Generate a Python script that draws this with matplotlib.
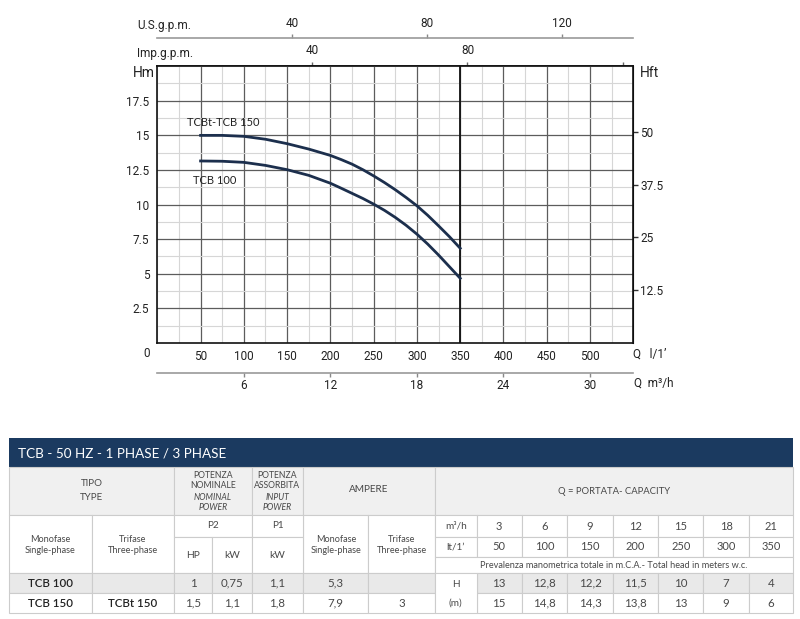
import matplotlib
matplotlib.use('Agg')
import matplotlib.pyplot as plt
from matplotlib.patches import Rectangle
from matplotlib.ticker import MultipleLocator

AX_FONT = 'Roboto'
TB_FONT = 'Lato'

# pump curves (l/min -> m)
q_curve = [50, 75, 100, 125, 150, 175, 200, 212.5, 225, 237.5, 250, 262.5,
           275, 287.5, 300, 312.5, 325, 337.5, 350]
h_150 = [15.0, 15.0, 14.93, 14.72, 14.4, 14.01, 13.55, 13.25, 12.92, 12.52, 12.07, 11.59,
         11.07, 10.51, 9.91, 9.22, 8.46, 7.68, 6.84]
h_100 = [13.15, 13.13, 13.05, 12.83, 12.52, 12.11, 11.54, 11.18, 10.81, 10.44, 10.03, 9.58,
         9.07, 8.5, 7.86, 7.14, 6.35, 5.51, 4.67]

hm_ticks = [2.5, 5, 7.5, 10, 12.5, 15, 17.5]
hft_ticks = [12.5, 25, 37.5, 50]
q_ticks = [50, 100, 150, 200, 250, 300, 350, 400, 450, 500]
m3h_ticks = [6, 12, 18, 24, 30]
us_ticks = [40, 80, 120]
imp_ticks = [40, 80, 120]
imp_labels = ['40', '80', '']

# table
mono = ['TCB 100', 'TCB 150']
tri = ['', 'TCBt 150']
p2_hp = ['1', '1,5']
p2_kw = ['0,75', '1,1']
p1_kw = ['1,1', '1,8']
amp_mono = ['5,3', '7,9']
amp_tri = ['', '3']
tab_m3h = ['3', '6', '9', '12', '15', '18', '21']
tab_lmin = ['50', '100', '150', '200', '250', '300', '350']
tab_h = [['13', '12,8', '12,2', '11,5', '10', '7', '4'],
         ['15', '14,8', '14,3', '13,8', '13', '9', '6']]

FT = 3.2808
US = 3.9
IMP = 4.48

plt.rcParams['font.family'] = [AX_FONT, 'DejaVu Sans']
fig = plt.figure(figsize=(8, 6.19), dpi=100)

ax = fig.add_axes([157.3 / 800, 276.1 / 619, 476 / 800, 276.7 / 619])
ax.set_xlim(0, 550)
ax.set_ylim(0, 20)
ax.set_xticks(q_ticks)
ax.set_yticks(hm_ticks)
ax.set_yticklabels([('%g' % v) for v in hm_ticks])
ax.xaxis.set_minor_locator(MultipleLocator(25))
ax.yaxis.set_minor_locator(MultipleLocator(1.25))
ax.grid(which='minor', color='#d6d6d6', lw=0.8)
ax.grid(which='major', color='#5c5c5c', lw=0.9)
ax.set_axisbelow(True)
ax.tick_params(which='both', length=0, labelsize=8.5, labelcolor='#222222')
ax.tick_params(axis='x', pad=5)
ax.tick_params(axis='y', pad=5.8)
for s in ax.spines.values():
    s.set_linewidth(1.2)
    s.set_color('#111111')
ax.axvline(q_curve[-1], color='#111111', lw=1.3, zorder=1.5)

ax.plot(q_curve, h_150, color='#1c2f4d', lw=2)
ax.plot(q_curve, h_100, color='#1c2f4d', lw=2)
ax.text(34, 15.93, 'TCBt-TCB 150', fontsize=8, family=TB_FONT, color='#222222', va='center')
ax.text(41, 11.77, 'TCB 100', fontsize=8, family=TB_FONT, color='#222222', va='center')
ax.annotate('0', xy=(0, 0), xytext=(-11, -11), textcoords='offset pixels',
            ha='center', va='center', fontsize=8.5, color='#222222')

# right axis in feet
ay = ax.secondary_yaxis('right', functions=(lambda m: m * FT, lambda f: f / FT))
ay.set_yticks(hft_ticks)
ay.set_yticklabels([('%g' % v) for v in hft_ticks])
ay.tick_params(length=3.6, width=1, color='#333333', pad=1.3, labelsize=8.5, labelcolor='#222222')

# imperial gpm on the top spine
ai = ax.secondary_xaxis('top', functions=(lambda q: q / IMP, lambda g: g * IMP))
ai.set_xticks(imp_ticks)
ai.set_xticklabels(imp_labels)
ai.tick_params(length=3, width=1, color='#666666', pad=3.5, labelsize=8.5, labelcolor='#222222')
ai.spines['top'].set_color('#111111')
ai.spines['top'].set_linewidth(1.2)

# US gpm above
au = ax.secondary_xaxis(1.102, functions=(lambda q: q / US, lambda g: g * US))
au.set_xticks(us_ticks)
au.tick_params(length=3, width=1, color='#888888', pad=2.7, labelsize=8.5, labelcolor='#222222')
au.spines['top'].set_color('#9a9a9a')
au.spines['top'].set_linewidth(1.2)

# m3/h below
am = ax.secondary_xaxis(-0.1075, functions=(lambda q: q * 0.06, lambda v: v / 0.06))
am.set_xticks(m3h_ticks)
am.tick_params(length=3, width=1, color='#888888', pad=1.7, labelsize=8.5, labelcolor='#222222')
am.spines['bottom'].set_color('#9a9a9a')
am.spines['bottom'].set_linewidth(1.2)

H = 619
def ftxt(x, y, s, **kw):
    fig.text(x / 800, 1 - y / H, s, va='center', color='#222222', **kw)

ftxt(133, 73.3, 'Hm', fontsize=10, ha='left')
ftxt(640, 73.3, 'Hft', fontsize=10, ha='left')
ftxt(633, 354, 'Q   l/1\u2019', fontsize=8.5, ha='left')
ftxt(634, 383.3, 'Q  m\u00b3/h', fontsize=8.5, ha='left')
ftxt(137.3, 26, 'U.S.g.p.m.', fontsize=8.5, ha='left')
ftxt(137.3, 53.3, 'Imp.g.p.m.', fontsize=8.5, ha='left')

# ---------- table ----------
tb = fig.add_axes([0, 0, 1, 190 / 619])
tb.set_xlim(0, 800)
tb.set_ylim(619, 429)
tb.axis('off')

def cell(x0, x1, y0, y1, bg='white'):
    tb.add_patch(Rectangle((x0, y0), x1 - x0, y1 - y0, facecolor=bg,
                           edgecolor='#cccccc', lw=0.8))

def txt(x, y, s, size=6.5, style='normal', color='#484848', weight='normal'):
    tb.text(x, y, s, ha='center', va='center', fontsize=size, fontstyle=style,
            color=color, family=TB_FONT, fontweight=weight)

tb.add_patch(Rectangle((9, 438.3), 784.3, 28.4, facecolor='#1b3a60', edgecolor='none'))
tb.text(18, 453, 'TCB - 50 HZ - 1 PHASE / 3 PHASE', fontsize=9.7, color='white',
        family=TB_FONT, va='center', ha='left')

G1 = '#f0f0f0'
G2 = '#e9e9e9'
y1, y2, y3, y4, y5, y6, y7 = 466.7, 515, 536.7, 556.7, 573.3, 593.3, 613.3
cell(9, 174, y1, y2, G1)
txt(91.5, 483.3, 'TIPO', 7)
txt(91.5, 497.7, 'TYPE', 7)
cell(174, 251.7, y1, y2, G1)
txt(212.8, 475.7, 'POTENZA', 6.2)
txt(212.8, 485, 'NOMINALE', 6.2)
txt(212.8, 497.3, 'NOMINAL', 6.2, 'italic')
txt(212.8, 507.7, 'POWER', 6.2, 'italic')
cell(251.7, 303.3, y1, y2, G1)
txt(277.5, 475.7, 'POTENZA', 6.2)
txt(277.5, 485, 'ASSORBITA', 6.2)
txt(277.5, 497.3, 'INPUT', 6.2, 'italic')
txt(277.5, 507.7, 'POWER', 6.2, 'italic')
cell(303.3, 435, y1, y2, G1)
txt(369, 490, 'AMPERE', 7.2)
cell(435, 793.3, y1, y2, G1)
txt(614, 491, 'Q = PORTATA- CAPACITY', 6.8)

for x0, x1, a, b in [(9, 91.7, 'Monofase', 'Single-phase'), (91.7, 174, 'Trifase', 'Three-phase'),
                     (303.3, 368.3, 'Monofase', 'Single-phase'), (368.3, 435, 'Trifase', 'Three-phase')]:
    cell(x0, x1, y2, y5)
    txt((x0 + x1) / 2, 539, a, 6.6)
    txt((x0 + x1) / 2, 550.7, b, 6.6)
cell(174, 251.7, y2, y3)
txt(212.8, 526, 'P2', 7.2)
cell(251.7, 303.3, y2, y3)
txt(277.5, 526, 'P1', 7.2)
for x0, x1, s in [(174, 212.3, 'HP'), (212.3, 251.7, 'kW'), (251.7, 303.3, 'kW')]:
    cell(x0, x1, y3, y5)
    txt((x0 + x1) / 2, 555, s, 7.4)

q_cols = [476.7, 521.7, 567.3, 612.7, 658.3, 703.3, 749, 793.3]
cell(435, 476.7, y2, y3)
txt(455.8, 526, 'm\u00b3/h', 7.2)
cell(435, 476.7, y3, y4)
txt(455.8, 546.7, 'lt/1\u2019', 7.2)
for i in range(7):
    xa, xb = q_cols[i], q_cols[i + 1]
    cell(xa, xb, y2, y3)
    txt((xa + xb) / 2, 526, tab_m3h[i], 8)
    cell(xa, xb, y3, y4)
    txt((xa + xb) / 2, 546.7, tab_lmin[i], 8)
cell(435, 793.3, y4, y5)
txt(614, 565, 'Prevalenza manometrica totale in m.C.A.- Total head in meters w.c.', 6.6)

row_cols = [9, 91.7, 174, 212.3, 251.7, 303.3, 368.3, 435]
for r, (ya, yb, bg) in enumerate([(y5, y6, G2), (y6, y7, 'white')]):
    vals = [mono[r], tri[r], p2_hp[r], p2_kw[r], p1_kw[r], amp_mono[r], amp_tri[r]]
    for j, v in enumerate(vals):
        cell(row_cols[j], row_cols[j + 1], ya, yb, bg)
        txt((row_cols[j] + row_cols[j + 1]) / 2, (ya + yb) / 2, v, 8.3,
            color='#222222' if j < 2 else '#484848',
            weight='semibold' if j < 2 else 'normal')
    for i in range(7):
        xa, xb = q_cols[i], q_cols[i + 1]
        cell(xa, xb, ya, yb, bg)
        txt((xa + xb) / 2, (ya + yb) / 2, tab_h[r][i], 8.3)
cell(435, 476.7, y5, y7)
txt(455.8, 584.3, 'H', 7.2)
txt(455.8, 603.3, '(m)', 7.2)

fig.savefig('out.png', dpi=100)
